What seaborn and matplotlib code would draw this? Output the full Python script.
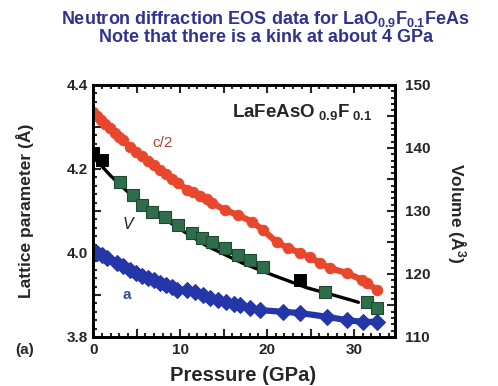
import matplotlib
matplotlib.use("Agg")
import matplotlib.pyplot as plt
import seaborn as sns
import pandas as pd
from matplotlib.ticker import MultipleLocator, FuncFormatter

sns.set_style("ticks")
plt.rcParams['font.family'] = ['Liberation Sans', 'DejaVu Sans']
plt.rcParams['mathtext.fontset'] = 'custom'
plt.rcParams['mathtext.rm'] = 'Liberation Sans:bold'
plt.rcParams['mathtext.it'] = 'Liberation Sans:bold'
plt.rcParams['mathtext.bf'] = 'Liberation Sans:bold'

# ---- data ----
p_c2 = [0.0, 0.46, 0.92, 1.38, 1.95, 2.53, 2.99, 3.45, 4.25, 4.94, 5.63, 6.32,
        7.01, 7.70, 8.39, 9.08, 9.77, 10.8, 11.5, 12.3, 13.1, 13.7, 15.2, 16.7,
        18.3, 19.5, 21.1, 22.4, 23.8, 24.9, 26.1, 27.2, 29.2, 30.9, 31.5, 32.6]
c_half = [4.336, 4.326, 4.317, 4.307, 4.298, 4.286, 4.276, 4.269, 4.252, 4.240,
          4.231, 4.219, 4.210, 4.198, 4.188, 4.176, 4.167, 4.150, 4.145, 4.136,
          4.129, 4.119, 4.102, 4.090, 4.074, 4.055, 4.026, 4.012, 4.000, 3.990,
          3.976, 3.964, 3.952, 3.936, 3.929, 3.912]

p_a = [0.0, 0.46, 1.0, 1.6, 2.76, 3.45, 4.25, 4.94, 5.63, 6.32, 7.01, 7.70, 8.39,
       9.08, 9.66, 10.8, 11.7, 12.6, 13.4, 14.4, 15.3, 16.2, 16.9, 18.0, 19.2,
       21.8, 23.8, 26.9, 29.2, 31.0, 32.6]
a_par = [4.007, 4.000, 3.995, 3.988, 3.976, 3.969, 3.960, 3.952, 3.945, 3.940,
         3.936, 3.929, 3.924, 3.919, 3.912, 3.912, 3.907, 3.900, 3.893, 3.888,
         3.883, 3.879, 3.876, 3.869, 3.864, 3.860, 3.857, 3.848, 3.840, 3.836,
         3.836]

p_v = [3.1, 4.6, 5.6, 6.8, 8.3, 9.8, 11.4, 12.5, 13.7, 15.2, 16.7, 18.0, 19.5,
       26.7, 31.5, 32.6]
vol = [134.6, 132.5, 130.9, 129.8, 129.0, 127.8, 126.5, 125.7, 125.1, 124.1,
       123.0, 122.2, 121.1, 117.1, 115.6, 114.6]

p_v_black = [0.0, 1.0, 23.8]
vol_black = [139.2, 138.1, 119.0]

p_fit = [0.0, 2.0, 4.0, 7.0, 9.8, 13.0, 17.2, 20.7, 24.6, 27.5, 30.3, 30.5]
vol_fit = [138.6, 135.6, 133.0, 129.8, 127.3, 124.5, 121.7, 119.8, 117.8,
           116.7, 115.6, 115.5]

left_ticks = [3.8, 4.0, 4.2, 4.4]
right_ticks = [110, 120, 130, 140, 150]
x_ticks = [0, 10, 20, 30]

red = "#e8472e"
green = "#2f6e4c"
blue = "#2436a8"

fig = plt.figure(figsize=(4.98, 3.86), dpi=100)
ax = fig.add_axes([0.187, 0.127, 0.606, 0.653])
ax2 = ax.twinx()

df_c = pd.DataFrame({"P": p_c2, "v": c_half})
df_a = pd.DataFrame({"P": p_a, "v": a_par})
df_v = pd.DataFrame({"P": p_v, "v": vol})
df_vb = pd.DataFrame({"P": p_v_black, "v": vol_black})
df_fit = pd.DataFrame({"P": p_fit, "v": vol_fit})

sns.lineplot(data=df_c, x="P", y="v", ax=ax, color=red, lw=4.5, marker="o",
             markersize=7.5, markeredgecolor=red, sort=False)
sns.lineplot(data=df_a, x="P", y="v", ax=ax, color=blue, lw=4.5, marker="D",
             markersize=8, markeredgecolor=blue, sort=False)

sns.lineplot(data=df_fit, x="P", y="v", ax=ax2, color="black", lw=2.4, sort=False)
sns.scatterplot(data=df_v, x="P", y="v", ax=ax2, color=green, marker="s", s=70,
                edgecolor="#1e4a30", linewidth=0.8, zorder=3)
sns.scatterplot(data=df_vb, x="P", y="v", ax=ax2, color="black", marker="s", s=70,
                edgecolor="black", zorder=3)

ax.set_xlim(0, 34.7)
ax.set_ylim(3.8, 4.4)
ax2.set_ylim(110, 150)

ax.xaxis.set_major_locator(MultipleLocator(5))
ax.xaxis.set_minor_locator(MultipleLocator(1))
ax.xaxis.set_major_formatter(FuncFormatter(
    lambda v, pos: f"{int(round(v))}" if int(round(v)) in x_ticks else ""))
ax.yaxis.set_major_locator(MultipleLocator(0.1))
ax.yaxis.set_minor_locator(MultipleLocator(0.02))
ax.yaxis.set_major_formatter(FuncFormatter(
    lambda v, pos: f"{v:.1f}" if any(abs(v - t) < 1e-6 for t in left_ticks) else ""))
ax2.yaxis.set_major_locator(MultipleLocator(5))
ax2.yaxis.set_minor_locator(MultipleLocator(1))
ax2.yaxis.set_major_formatter(FuncFormatter(
    lambda v, pos: f"{int(round(v))}" if int(round(v)) in right_ticks and abs(v - round(v)) < 1e-6 else ""))

for a_ in (ax, ax2):
    for s in a_.spines.values():
        s.set_linewidth(2)
        s.set_color("black")
ax.tick_params(axis="both", which="both", direction="in", top=True, right=False,
               width=1.5, labelsize=11, pad=4)
ax.tick_params(which="major", length=6)
ax.tick_params(which="minor", length=3)
ax2.tick_params(axis="y", which="both", direction="in", width=1.5, labelsize=11, pad=7)
ax2.tick_params(which="major", length=6)
ax2.tick_params(which="minor", length=3)
for lab in ax.get_xticklabels() + ax.get_yticklabels() + ax2.get_yticklabels():
    lab.set_fontweight("bold")

ax.set_xlabel("Pressure (GPa)", fontsize=14.5, fontweight="bold")
ax.xaxis.label.set_va("center")
ax.xaxis.set_label_coords(0.497, -0.151)
ax.set_ylabel("Lattice parameter (Å)", fontsize=12.5, fontweight="bold")
ax.yaxis.label.set_va("center")
ax.yaxis.set_label_coords(-0.225, 0.5)
ax2.set_ylabel("Volume (Å$^{3}$)", fontsize=12.5, fontweight="bold", rotation=-90)
ax2.yaxis.label.set_va("center")
ax2.yaxis.set_label_coords(1.205, 0.49)

H = 386
fig.text(232 / 498, 1 - 112 / H, r"LaFeAsO$_{\ 0.9}$F$_{\ 0.1}$", fontsize=13.5,
         fontweight="bold", va="center", ha="left")
fig.text(163 / 498, 1 - 143 / H, "c/2", color="#b5402f", fontsize=11, ha="center", va="center")
fig.text(128 / 498, 1 - 225 / H, "V", color="#222222", fontsize=11.5, style="italic",
         ha="center", va="center")
fig.text(127 / 498, 1 - 295 / H, "a", color="#3a4a9a", fontsize=11, fontweight="bold",
         ha="center", va="center")
fig.text(25 / 498, 1 - 350 / H, "(a)", fontsize=11, fontweight="bold", ha="center",
         va="center")

title_color = "#2f3390"
fig.text(265 / 498, 1 - 19 / H,
         r"Neutron diffraction EOS data for LaO$_{0.9}$F$_{0.1}$FeAs",
         color=title_color, fontsize=13, fontweight="bold", ha="center", va="center")
fig.text(266 / 498, 1 - 38 / H, "Note that there is a kink at about 4 GPa",
         color=title_color, fontsize=13, fontweight="bold", ha="center", va="center")

fig.savefig("out.png", dpi=100, facecolor="white")
